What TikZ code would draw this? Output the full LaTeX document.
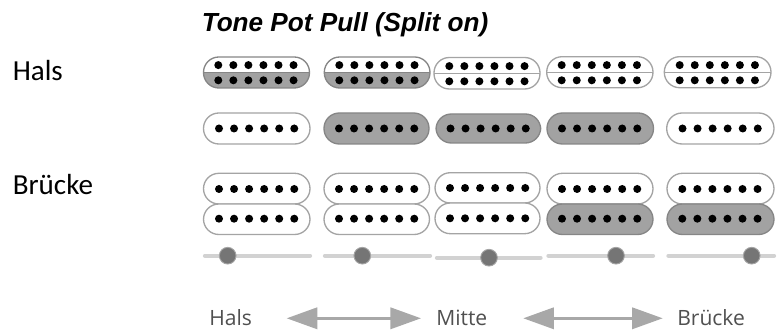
\documentclass[tikz,border=0pt]{standalone}
\usepackage{fontspec}
\setmainfont{Carlito}
\newfontfamily\titlefont{Liberation Sans}
\newfontfamily\axisfont{Open Sans}
\usetikzlibrary{arrows.meta}
\definecolor{pfill}{HTML}{A2A2A2}
\definecolor{pedge}{HTML}{A4A4A4}
\definecolor{pedged}{HTML}{868686}
\definecolor{railc}{HTML}{D2D2D2}
\definecolor{knobc}{HTML}{757575}
\definecolor{arrowc}{HTML}{A8A8A8}
\definecolor{axtext}{HTML}{505050}
\tikzset{
  pdot/.style={fill=black,draw=none},
  pbody/.style={draw=pedge,line width=1pt,fill=white,rounded corners=11.5pt},
  pbodyd/.style={draw=pedged,line width=1pt,fill=pfill,rounded corners=11.5pt},
  rail/.style={draw=railc,line width=3.2pt,line cap=round},
  knob/.style={circle,fill=knobc,draw=pedge,line width=.7pt,minimum size=12.5pt,inner sep=0pt},
  lab/.style={anchor=base west,font=\fontsize{21.8}{24}\selectfont,text=black,inner sep=0pt},
  axlab/.style={anchor=base west,font=\axisfont\fontsize{15.8}{18}\selectfont,text=axtext,inner sep=0pt},
  twoway/.style={draw=arrowc,line width=2pt,{Triangle[length=23pt,width=16pt,fill=arrowc]}-{Triangle[length=23pt,width=16pt,fill=arrowc]}}
}
% six pole dots: first x, y
\newcommand{\poles}[2]{\foreach \k in {0,...,5}{\fill[pdot] ({#1+15.05*\k},#2) circle (3pt);}}
% split humbucker: x1,x2,ytop,ymid,ybot,half fill flag (1 = lower half grey)
\newcommand{\hum}[7]{%
  \ifnum#6=1
    \begin{scope}
      \clip[rounded corners=11.5pt] (#1,#3) rectangle (#2,#5);
      \fill[pfill] (#1,#4) rectangle (#2,#5);
    \end{scope}
    \draw[draw=pedged,line width=1pt,rounded corners=11.5pt] (#1,#3) rectangle (#2,#5);
    \draw[draw=pedged,line width=1pt] (#1,#4) -- (#2,#4);
  \else
    \draw[pbody] (#1,#3) rectangle (#2,#5);
    \draw[draw=pedge,line width=1pt] (#1,#4) -- (#2,#4);
  \fi
  \poles{#7}{#4-7.4}\poles{#7}{#4+7.8}}
\begin{document}
\begin{tikzpicture}[x=.75pt,y=-.75pt]
\useasboundingbox (0,0) rectangle (779,334);
\node[anchor=base west,inner sep=0pt,font=\titlefont\bfseries\itshape\fontsize{19.6}{22}\selectfont] (title) at (201.5,31.5) {Tone Pot Pull (Split on)};
\node[lab] (hals) at (12.5,81) {Hals};
\node[lab] (bruecke) at (12.5,194.5) {Brücke};
% neck row
\hum{203.5}{309.5}{57}{72.5}{88}{1}{218.3}
\hum{324.3}{430}{57}{72.5}{88}{1}{339.3}
\hum{434}{540}{57.5}{73.5}{89}{0}{449.3}
\hum{546.7}{653}{56.7}{72.5}{87.7}{0}{561.7}
\hum{664.3}{771}{56.7}{72.5}{87.7}{0}{679.7}
% middle row
\draw[pbody] (203.5,113) rectangle (310,144); \poles{219}{128.5}
\draw[pbodyd] (324,113) rectangle (429,144); \poles{339}{128.5}
\draw[pbodyd] (436,114) rectangle (540.7,143); \poles{450.5}{128.5}
\draw[pbodyd] (547,113) rectangle (653.5,144); \poles{562}{128.5}
\draw[pbody] (666.7,113) rectangle (774,144); \poles{682.5}{128.5}
% bridge row
\draw[pbody] (203.5,173.3) rectangle (310,204); \poles{219}{189}
\draw[pbody] (203.5,204) rectangle (310,234.5); \poles{219}{218.7}
\draw[pbody] (324,173.3) rectangle (429.5,204); \poles{339}{189}
\draw[pbody] (324,204) rectangle (429.5,234.5); \poles{339}{218.7}
\draw[pbody] (435,172.7) rectangle (540,203); \poles{450}{188}
\draw[pbody] (435,203) rectangle (540,233.7); \poles{450}{218.3}
\draw[pbody] (547,173.3) rectangle (653,204); \poles{562}{189}
\draw[pbodyd] (547,204) rectangle (653,234.5); \poles{562}{218.7}
\draw[pbody] (667,173.3) rectangle (774,204); \poles{682.3}{189}
\draw[pbodyd] (667,204) rectangle (774,234.5); \poles{682.3}{218.7}
% switch rails
\coordinate (r1a) at (205,255.7); \coordinate (r1b) at (310,255.7);
\coordinate (r2a) at (325,255.7); \coordinate (r2b) at (430,255.7);
\coordinate (r3a) at (437,257.7); \coordinate (r3b) at (540.5,257.7);
\coordinate (r4a) at (548.5,255.7); \coordinate (r4b) at (653,255.7);
\coordinate (r5a) at (668.5,255.7); \coordinate (r5b) at (774,255.7);
\draw[rail] (r1a) -- (r1b);
\draw[rail] (r2a) -- (r2b);
\draw[rail] (r3a) -- (r3b);
\draw[rail] (r4a) -- (r4b);
\draw[rail] (r5a) -- (r5b);
\node[knob] (k1) at (227.7,255.7) {};
\node[knob] (k2) at (362.3,255.7) {};
\node[knob] (k3) at (489,257.7) {};
\node[knob] (k4) at (616,255.7) {};
\node[knob] (k5) at (751.7,255.7) {};
% axis
\node[axlab] (ax1) at (209,325.5) {Hals};
\node[axlab] (ax2) at (436,325.5) {Mitte};
\node[axlab] (ax3) at (677,325.5) {Brücke};
\coordinate (a1) at (286.7,318.3); \coordinate (a2) at (421,318.3);
\coordinate (a3) at (523.3,318.3); \coordinate (a4) at (662.7,318.3);
\draw[twoway] (a1) -- (a2);
\draw[twoway] (a3) -- (a4);
\end{tikzpicture}
\end{document}
